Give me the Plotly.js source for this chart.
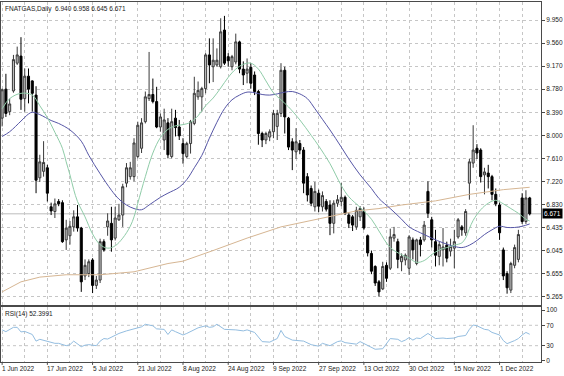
<!DOCTYPE html>
<html><head><meta charset="utf-8">
<script src="https://cdn.plot.ly/plotly-3.0.1.min.js"></script>
<style>html,body{margin:0;padding:0;background:#fff}#c{width:564px;height:376px}</style>
</head><body><div id="c"></div>
<script>
const dates = [
"2022-06-01","2022-06-02","2022-06-03","2022-06-06","2022-06-07","2022-06-08","2022-06-09","2022-06-10","2022-06-13","2022-06-14","2022-06-15","2022-06-16","2022-06-17","2022-06-20","2022-06-21","2022-06-22","2022-06-23","2022-06-24","2022-06-27","2022-06-28","2022-06-29","2022-06-30",
"2022-07-01","2022-07-04","2022-07-05","2022-07-06","2022-07-07","2022-07-08","2022-07-11","2022-07-12","2022-07-13","2022-07-14","2022-07-15","2022-07-18","2022-07-19","2022-07-20","2022-07-21","2022-07-22","2022-07-25","2022-07-26","2022-07-27","2022-07-28","2022-07-29",
"2022-08-01","2022-08-02","2022-08-03","2022-08-04","2022-08-05","2022-08-08","2022-08-09","2022-08-10","2022-08-11","2022-08-12","2022-08-15","2022-08-16","2022-08-17","2022-08-18","2022-08-19","2022-08-22","2022-08-23","2022-08-24","2022-08-25","2022-08-26","2022-08-29","2022-08-30","2022-08-31",
"2022-09-01","2022-09-02","2022-09-05","2022-09-06","2022-09-07","2022-09-08","2022-09-09","2022-09-12","2022-09-13","2022-09-14","2022-09-15","2022-09-16","2022-09-19","2022-09-20","2022-09-21","2022-09-22","2022-09-23","2022-09-26","2022-09-27","2022-09-28","2022-09-29","2022-09-30",
"2022-10-03","2022-10-04","2022-10-05","2022-10-06","2022-10-07","2022-10-10","2022-10-11","2022-10-12","2022-10-13","2022-10-14","2022-10-17","2022-10-18","2022-10-19","2022-10-20","2022-10-21","2022-10-24","2022-10-25","2022-10-26","2022-10-27","2022-10-28","2022-10-30","2022-10-31",
"2022-11-01","2022-11-02","2022-11-03","2022-11-04","2022-11-07","2022-11-08","2022-11-09","2022-11-10","2022-11-11","2022-11-14","2022-11-15","2022-11-16","2022-11-17","2022-11-18","2022-11-21","2022-11-22","2022-11-23","2022-11-24","2022-11-25","2022-11-28","2022-11-29","2022-11-30",
"2022-12-01","2022-12-02","2022-12-05","2022-12-06","2022-12-07","2022-12-08","2022-12-09","2022-12-12","2022-12-13"];

const open  = [8.29,8.78,8.40,8.75,9.22,9.34,8.62,9.00,8.92,8.68,7.28,7.39,7.45,6.79,6.71,6.88,6.86,6.23,6.30,6.45,6.62,6.43,5.62,5.66,5.89,5.46,5.55,6.20,6.45,6.51,6.26,6.57,6.65,7.19,7.30,7.30,7.64,7.78,8.23,8.62,8.69,8.57,8.14,7.92,8.21,7.64,8.29,8.14,7.86,7.64,7.86,8.20,8.65,8.65,8.79,9.36,9.16,9.19,9.16,9.78,9.33,9.16,9.24,9.58,9.12,9.05,9.15,9.02,8.74,8.03,7.92,7.97,8.06,8.15,8.37,9.10,8.29,7.89,7.72,7.86,7.75,7.30,7.10,6.79,7.02,6.79,6.88,6.82,6.51,6.85,6.88,6.95,6.65,6.62,6.45,6.62,6.71,6.30,6.00,5.78,5.52,5.40,5.80,5.75,6.26,6.20,5.86,5.89,5.75,6.23,5.83,6.23,6.23,7.05,6.57,6.20,5.95,6.06,6.14,6.04,6.09,6.28,6.45,6.35,7.19,7.53,7.78,7.75,7.33,7.36,7.30,7.00,6.82,6.06,5.66,5.38,5.80,5.90,6.94,6.54,6.940];
const high  = [8.79,9.04,8.62,9.36,9.50,9.66,9.13,9.13,8.93,8.83,7.67,7.90,7.50,6.86,6.93,6.92,6.90,6.57,6.55,6.73,6.82,6.45,5.90,5.90,5.92,5.62,6.25,6.24,6.68,6.79,6.79,6.84,7.18,7.53,7.55,7.95,8.23,8.29,8.74,9.41,8.96,8.82,8.37,8.45,8.29,8.45,8.43,8.26,7.95,7.89,8.26,8.99,8.91,8.82,9.39,9.64,9.64,9.47,9.98,10.02,9.39,9.36,9.72,9.60,9.25,9.30,9.22,9.08,8.77,8.06,8.06,8.10,8.43,8.43,9.22,9.16,8.31,7.95,8.12,7.92,7.80,7.36,7.15,7.21,7.08,7.05,6.92,6.90,6.90,6.99,7.19,6.98,6.68,6.65,6.79,6.80,6.78,6.32,6.05,5.80,5.55,5.86,5.85,6.42,6.45,6.25,6.00,6.00,6.31,6.27,6.25,6.28,6.55,7.22,6.62,6.40,6.20,6.43,6.20,6.25,6.40,6.60,6.48,6.75,7.60,8.17,7.85,7.78,7.45,7.50,7.33,7.10,6.86,6.10,5.70,5.86,6.15,6.40,7.02,7.07,6.958];
const low   = [8.15,8.31,8.34,8.72,9.19,8.43,8.40,8.54,8.40,7.02,7.21,7.30,6.88,6.65,6.60,6.80,6.18,6.06,6.15,6.37,6.37,5.35,5.55,5.60,5.33,5.40,5.50,6.03,6.30,6.03,6.22,6.55,6.45,7.12,7.25,7.22,7.61,7.70,8.20,8.58,8.54,8.12,8.06,7.75,7.61,7.61,7.98,7.92,7.52,7.61,7.69,8.17,8.60,8.40,8.71,8.88,8.90,9.16,9.13,9.19,9.16,9.10,9.20,9.05,8.85,8.88,8.79,8.68,7.84,7.80,7.85,7.90,7.95,7.92,8.31,8.03,7.75,7.41,7.60,7.68,7.02,6.88,6.80,6.71,6.70,6.71,6.71,6.31,6.34,6.79,6.80,6.65,6.43,6.38,6.40,6.55,6.40,5.95,5.65,5.45,5.27,5.38,5.52,5.72,6.20,5.75,5.70,5.80,5.64,5.90,5.80,5.95,6.20,6.60,6.10,5.78,5.80,5.78,5.85,5.95,5.75,6.25,6.30,6.30,6.91,7.45,7.60,7.20,7.00,7.10,6.90,6.80,6.23,5.55,5.32,5.33,5.75,5.85,6.50,6.50,6.645];
const close = [8.77,8.37,8.53,9.28,9.36,8.61,9.00,8.78,8.71,7.24,7.55,7.54,7.02,6.72,6.84,6.84,6.20,6.43,6.46,6.62,6.43,5.52,5.80,5.86,5.46,5.55,6.20,6.06,6.55,6.23,6.60,6.65,7.13,7.45,7.45,7.87,8.17,8.21,8.65,8.69,8.57,8.14,8.31,8.26,7.67,8.23,8.13,7.99,7.69,7.86,8.23,8.71,8.76,8.79,9.36,9.19,9.27,9.27,9.75,9.22,9.26,9.33,9.58,9.12,9.02,9.12,8.88,8.74,8.03,7.92,8.03,8.06,8.37,8.37,9.10,8.31,7.80,7.75,7.89,7.75,7.19,6.99,6.85,7.05,6.80,6.98,6.75,6.51,6.85,6.91,6.95,6.68,6.51,6.48,6.73,6.76,6.43,6.01,5.70,5.50,5.35,5.78,5.58,6.28,6.32,5.90,5.95,5.97,6.28,6.06,6.23,6.15,6.48,6.68,6.23,5.97,6.15,6.11,5.92,6.12,6.20,6.57,6.40,6.71,7.55,7.75,7.70,7.30,7.38,7.30,7.00,6.84,6.35,5.62,5.42,5.83,6.10,6.32,6.54,6.94,6.671];

const maFastBars = [0,2,5,8,10,12,14,16,17,18,19,20,22,24,26,28,30,32,34,35,36,38,40,42,44,46,48,50,52,54,56,58,60,62,64,66,68,70,72,74,76,79,82,84,87,90,92,95,98,100,103,106,108,110,112,114,116,118,120,122,123,124,125,127,129,131,133,135,137,139,140];
const maFastVals = [8.45,8.62,8.71,8.68,8.50,8.30,8.05,7.78,7.55,7.33,7.08,6.88,6.62,6.33,6.15,6.09,6.13,6.26,6.46,6.62,6.85,7.30,7.70,7.96,8.10,8.16,8.18,8.22,8.33,8.50,8.63,8.80,8.98,9.12,9.20,9.22,9.12,8.92,8.72,8.60,8.48,8.26,8.00,7.82,7.52,7.15,6.96,6.78,6.58,6.38,6.10,5.98,5.92,5.85,5.88,5.98,6.06,6.10,6.14,6.18,6.26,6.42,6.56,6.74,6.85,6.90,6.84,6.76,6.68,6.58,6.55];

const maSlowBars = [0,2,5,7,8,10,13,15,18,21,23,26,29,31,33,35,37,39,42,44,47,49,51,53,55,57,59,61,63,65,67,69,71,73,75,77,79,81,83,85,87,90,92,95,98,100,103,106,108,111,114,117,120,122,124,126,128,130,132,134,136,138,140];
const maSlowVals = [7.98,8.06,8.24,8.36,8.39,8.35,8.25,8.20,8.09,7.90,7.66,7.35,7.07,6.92,6.82,6.76,6.74,6.82,6.95,7.02,7.12,7.25,7.45,7.66,7.95,8.22,8.45,8.60,8.68,8.73,8.72,8.69,8.68,8.70,8.73,8.74,8.70,8.62,8.45,8.27,8.09,7.80,7.60,7.33,7.10,6.93,6.76,6.58,6.45,6.35,6.26,6.18,6.12,6.10,6.14,6.22,6.32,6.40,6.46,6.44,6.44,6.46,6.50];

const maLongBars = [0,5,10,17,26,35,44,48,56,65,74,83,87,94,100,106,115,124,133,140];
const maLongVals = [5.35,5.52,5.60,5.64,5.64,5.69,5.83,5.87,6.05,6.26,6.45,6.57,6.63,6.72,6.76,6.82,6.89,7.00,7.08,7.12];

const rsiBars = [0,1,3,4,5,6,8,9,10,12,14,15,17,18,19,21,22,23,25,26,27,28,30,31,33,34,36,37,38,40,41,43,44,45,46,48,49,51,52,54,55,56,57,59,60,62,64,65,67,68,69,71,72,73,74,75,77,79,80,82,83,84,85,86,87,89,90,91,93,94,95,97,98,99,101,102,103,105,106,107,108,109,110,111,113,114,115,117,118,120,121,123,124,125,126,128,129,130,132,133,134,136,137,138,139,140];
const rsiVals = [61,57.5,66,66,57,58,52,39,42.5,38,34.6,34.6,30,32,39,28,31,32,30,39,44,43,50,54,59,61,64,67,72,69,63,62,52,61,57.5,51,54,62,65,69,66,67,72,62,62,61,59,61,56,46,38,37,41,44,60,48,41,39.5,39,32,31,29,34.6,33,30,38,39.5,36,34.6,33,38,31,26,23,24,34.6,44,42.5,38,41,46,41,45,44,54,49,44,45,44,45,48,50,62,70.6,69,62,61,56,51,40,34,40,44,51,56,52.4];

const priceTicks = [5.265,5.655,6.045,6.435,6.830,7.220,7.610,8.000,8.390,8.780,9.170,9.560,9.950];
const rsiTicks = [0,30,70,100];
const dateTickBars = [0,12,24,36,48,60,72,84,96,108,120,132];
const dateTickLabels = ["1 Jun 2022","17 Jun 2022","5 Jul 2022","21 Jul 2022","8 Aug 2022","24 Aug 2022","9 Sep 2022","27 Sep 2022","13 Oct 2022","30 Oct 2022","15 Nov 2022","1 Dec 2022"];
const lastPrice = 6.671;
const symbolTitle = "FNATGAS,Daily\u00a0\u00a06.940 6.958 6.645 6.671";
const rsiTitle = "RSI(14) 52.3991";

const idx = dates.map((d, i) => i);
const gridBars = [];
for (let b = 0; b <= 140; b += 6) gridBars.push(b);

const FONT = "Liberation Sans, Arial, sans-serif";
const TXT = "#1a1a1a";
const XR = [-0.3, 143];

const traces = [
  {type:"candlestick", x:idx, open:open, high:high, low:low, close:close, xaxis:"x", yaxis:"y",
   increasing:{line:{color:"#3a3a3a", width:1}, fillcolor:"#c4c4c4"},
   decreasing:{line:{color:"#000000", width:1}, fillcolor:"#000000"},
   whiskerwidth:0, hoverinfo:"skip"},
  {type:"scatter", mode:"lines", x:maLongBars, y:maLongVals, xaxis:"x", yaxis:"y", line:{color:"#d6b693", width:1}, hoverinfo:"skip"},
  {type:"scatter", mode:"lines", x:maSlowBars, y:maSlowVals, xaxis:"x", yaxis:"y", line:{color:"#5656a6", width:1, shape:"spline"}, hoverinfo:"skip"},
  {type:"scatter", mode:"lines", x:maFastBars, y:maFastVals, xaxis:"x", yaxis:"y", line:{color:"#8fcca8", width:1, shape:"spline"}, hoverinfo:"skip"},
  {type:"scatter", mode:"lines", x:rsiBars, y:rsiVals, xaxis:"x2", yaxis:"y2", line:{color:"#93bde0", width:1}, hoverinfo:"skip"}
];

const axLine = {showline:true, mirror:true, linecolor:"#4a4a4a", linewidth:1, zeroline:false};
const dateAnnotations = dateTickBars.map((b, k) => ({
  xref:"x2", yref:"paper", x:b, y:0, xanchor:"left", yanchor:"top", xshift:-2, yshift:-1, showarrow:false,
  text:dateTickLabels[k], font:{family:FONT, size:6.5, color:TXT}
}));
const dateTickShapes = dateTickBars.map(b => ({
  type:"line", xref:"x2", yref:"paper", x0:b, x1:b, y0:0, y1:-0.008, line:{color:"#4a4a4a", width:1}
}));

const layout = {
  width:564, height:376,
  margin:{l:1, r:23, t:2, b:14, pad:0},
  paper_bgcolor:"#ffffff", plot_bgcolor:"#ffffff",
  showlegend:false, hovermode:false, boxgap:0.22,
  font:{family:FONT, size:6.5, color:TXT},
  xaxis:Object.assign({domain:[0,1], anchor:"y", range:XR, tickvals:gridBars, showticklabels:false,
    ticks:"", showgrid:true, gridcolor:"#c6c6c6", griddash:"dot", gridwidth:1,
    rangeslider:{visible:false}, fixedrange:true}, axLine),
  xaxis2:Object.assign({domain:[0,1], anchor:"y2", range:XR, tickvals:gridBars, showticklabels:false,
    ticks:"", showgrid:true, gridcolor:"#c6c6c6", griddash:"dot", gridwidth:1,
    automargin:false, fixedrange:true}, axLine),
  yaxis:Object.assign({domain:[0.1583,1], anchor:"x", side:"right", range:[5.128,10.255], tickvals:priceTicks,
    ticktext:priceTicks.map(v => v.toFixed(3)), ticks:"outside", ticklen:3, tickcolor:"#4a4a4a",
    tickfont:{family:FONT, size:6.5, color:TXT}, showgrid:true, gridcolor:"#c6c6c6", griddash:"dot", gridwidth:1,
    automargin:false, fixedrange:true}, axLine),
  yaxis2:Object.assign({domain:[0,0.1528], anchor:"x2", side:"right", range:[-2,105.9], tickvals:rsiTicks,
    ticktext:rsiTicks.map(String), ticks:"outside", ticklen:3, tickcolor:"#4a4a4a",
    tickfont:{family:FONT, size:6.5, color:TXT}, showgrid:false, automargin:false, fixedrange:true}, axLine),
  shapes:[
    {type:"line", xref:"x", yref:"y", x0:XR[0], x1:XR[1], y0:lastPrice, y1:lastPrice, line:{color:"#bdbdbd", width:1}, layer:"below"},
    {type:"line", xref:"x2", yref:"y2", x0:XR[0], x1:XR[1], y0:rsiTicks[1], y1:rsiTicks[1], line:{color:"#c6c6c6", width:1, dash:"dot"}, layer:"below"},
    {type:"line", xref:"x2", yref:"y2", x0:XR[0], x1:XR[1], y0:rsiTicks[2], y1:rsiTicks[2], line:{color:"#c6c6c6", width:1, dash:"dot"}, layer:"below"}
  ].concat(dateTickShapes),
  annotations:[
    {xref:"paper", yref:"y domain", x:0, y:1, xanchor:"left", yanchor:"top", xshift:2, yshift:-1, showarrow:false,
     text:symbolTitle, font:{family:FONT, size:6.5, color:TXT}},
    {xref:"paper", yref:"y2 domain", x:0, y:1, xanchor:"left", yanchor:"top", xshift:2, yshift:-1, showarrow:false,
     text:rsiTitle, font:{family:FONT, size:6.5, color:TXT}},
    {xref:"paper", yref:"y", x:1, y:lastPrice, xanchor:"left", yanchor:"middle", xshift:1, showarrow:false,
     text:lastPrice.toFixed(3), bgcolor:"#000000", borderpad:1, font:{family:FONT, size:6.5, color:"#ffffff"}}
  ].concat(dateAnnotations)
};
Plotly.newPlot("c", traces, layout, {staticPlot:true, displayModeBar:false});
</script></body></html>
